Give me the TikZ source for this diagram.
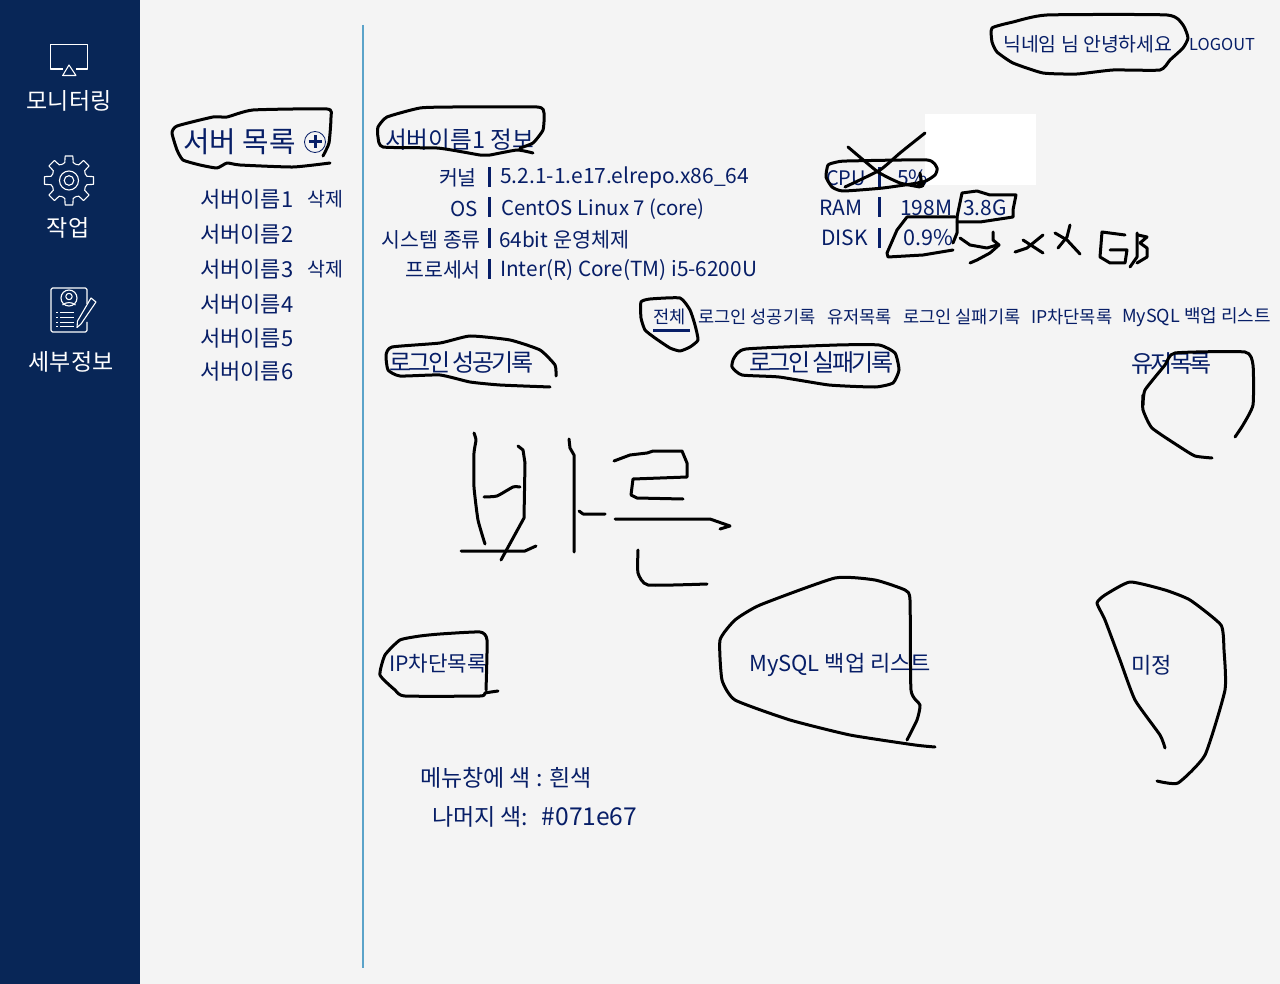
\documentclass[tikz,border=0pt]{standalone}
\usepackage{fontspec}
\setmainfont{Noto Sans CJK KR}
\newfontfamily\tightfont[LetterSpace=-11]{Noto Sans CJK KR}
\definecolor{pagebg}{HTML}{F4F4F4}
\definecolor{sidebar}{HTML}{082657}
\definecolor{navy}{HTML}{071E67}
\definecolor{rulecol}{HTML}{5BA3C9}
\newcommand{\fsz}[1]{\fontsize{#1}{#1}\selectfont}
\begin{document}
\begin{tikzpicture}[x=1pt,y=-1pt,
	label/.style = {anchor=west, inner sep=0pt, yshift=-1pt, text=navy, font=\fsz{21}},
	keyname/.style = {anchor=east, inner sep=0pt, yshift=-1pt, text=navy, font=\fsz{20.5}},
	tabname/.style = {anchor=west, inner sep=0pt, yshift=-1pt, text=navy, font=\fsz{17.6}},
	headname/.style = {anchor=west, inner sep=0pt, yshift=-1pt, text=navy, font=\fsz{24}\tightfont},
	menuname/.style = {anchor=center, inner sep=0pt, yshift=-1pt, text=white, font=\fsz{23}},
	icon/.style = {draw=white, line width=1.1pt, line join=round},
	bar/.style = {draw=navy, line width=3pt},
	scribble/.style = {draw=black, line width=3pt, line cap=round, line join=round}]
	\useasboundingbox (0,0) rectangle (1280,984);
	\fill[pagebg] (0,0) rectangle (1280,984);
	\fill[sidebar] (0,0) rectangle (140,984);
	\fill[white] (925,114) rectangle (1036,185);
	\draw[rulecol, line width=1.5pt] (363,25) -- (363,968);

	% side menu
	\node[menuname] (monitor) at (69,100) {모니터링};
	\node[menuname] (work) at (68,227) {작업};
	\node[menuname] (detail) at (71,361) {세부정보};

	\draw[icon] (62.7,69) -- (50.7,69) -- (50.7,44.5) -- (87.5,44.5) -- (87.5,69) -- (75.5,69);
	\draw[icon] (69,65) -- (62.7,75.5) -- (76,75.5) -- cycle;

	\foreach \a in {0,45,...,315}
		\draw[icon,shift={(69,180.5)}] (\a-22.5:17.5) to[bend left=18] (\a-13:18.5) -- (\a-9:24.8) -- (\a+9:24.8) -- (\a+13:18.5) to[bend left=18] (\a+22.5:17.5);
	\draw[icon] (69,180.5) circle (9.5) (69,180.5) circle (4.8);

	\draw[icon,rounded corners=1.5pt] (87,304) -- (87,288) -- (51,288) -- (51,332) -- (87,332) -- (87,322);
	\draw[icon] (69,298) circle (8) (69,296.5) circle (3.2);
	\draw[icon] (62.5,305) to[bend left=40] (75.5,305);
	\foreach \y in {312,317,322,326} {
		\draw[icon,line width=.8pt] (56,\y) -- (58,\y);
		\draw[icon,line width=.8pt] (60,\y) -- (74,\y);
	}
	\draw[icon] (91,298) -- (96,302) -- (81,324) -- (77,327.5) -- (77.5,321) -- cycle;

	% server list
	\node[label,font=\fsz{28.8}] (listhead) at (183,141) {서버 목록};
	\node[circle, draw=navy, line width=.8pt, minimum size=21pt, inner sep=0pt] (addserver) at (315,142) {};
	\draw[navy, line width=3pt] (308.5,142) -- (321.5,142) (315,135.5) -- (315,148.5);
	\foreach \n/\y in {1/198,2/233,3/268,4/303,5/337,6/370}
		\node[label,font=\fsz{22}] (server\n) at (200,\y) {서버이름\n};
	\node[label,font=\fsz{19.5}] (del1) at (307,198) {삭제};
	\node[label,font=\fsz{19.5}] (del3) at (307,268) {삭제};

	% server info
	\node[label,font=\fsz{23.6}] (infohead) at (385,139) {서버이름1 정보};
	\node[keyname] (kernel) at (477,177) {커널};
	\node[keyname] (os) at (478,208) {OS};
	\node[keyname] (system) at (481,239) {시스템 종류};
	\node[keyname] (cpuname) at (481,269) {프로세서};
	\node[label] (kernelval) at (500,177) {5.2.1-1.e17.elrepo.x86\_64};
	\node[label,font=\fsz{20.4}] (osval) at (501,208) {CentOS Linux 7 (core)};
	\node[label,font=\fsz{20.7}] (systemval) at (499,239) {64bit 운영체제};
	\node[label,font=\fsz{20.8}] (cpunameval) at (500,269) {Inter(R) Core(TM) i5-6200U};
	\foreach \y in {177,207,238,269}
		\draw[bar] (489,\y-10) -- (489,\y+10);

	% usage
	\node[label,font=\fsz{20}] (cpu) at (826,177) {CPU};
	\node[label] (cpuval) at (897,177) {5\%};
	\node[label] (ram) at (819,207) {RAM};
	\node[label] (ramval) at (900,207) {198M};
	\node[label] (ramall) at (963,207) {3.8G};
	\node[label] (disk) at (821,237) {DISK};
	\node[label,font=\fsz{21.6}] (diskval) at (903,237) {0.9\%};
	\foreach \y in {177,207,238}
		\draw[bar] (879.5,\y-10) -- (879.5,\y+10);

	% top right
	\node[label,font=\fsz{19.4}] (hello) at (1003,43) {닉네임 님 안녕하세요};
	\node[tabname,font=\fsz{16.4}] (logout) at (1189,43) {LOGOUT};

	% tabs
	\node[tabname] (taball) at (653,316) {전체};
	\draw[navy, line width=3pt] (653,331) -- (690,331);
	\node[tabname] (tabok) at (698,316) {로그인 성공기록};
	\node[tabname] (tabuser) at (827,316) {유저목록};
	\node[tabname] (tabfail) at (903,316) {로그인 실패기록};
	\node[tabname] (tabip) at (1031,316) {IP차단목록};
	\node[tabname,font=\fsz{18}] (tabsql) at (1122,316) {MySQL 백업 리스트};

	% panels
	\node[headname] (okhead) at (389,362) {로그인 성공기록};
	\node[headname] (failhead) at (749,362) {로그인 실패기록};
	\node[headname] (userhead) at (1131,363) {유저목록};
	\node[label,font=\fsz{21.2}] (iphead) at (389,663) {IP차단목록};
	\node[label,font=\fsz{22}] (sqlhead) at (749,664) {MySQL 백업 리스트};
	\node[label,font=\fsz{22}] (undecided) at (1131,664) {미정};
	\node[label,font=\fsz{23}] (note1) at (420,777) {메뉴창에 색 : 흰색};
	\node[label,font=\fsz{23}] (note2) at (432,816) {나머지 색:~~\hspace{3pt}{\fsz{24.6}\#071e67}};

	% pen marks over the page
	\draw[scribble] plot[smooth,tension=.3] coordinates {(330,163) (293,167) (240,165) (227,163) (217,168) (200,165) (183,160) (177,150) (172,133) (177,126) (213,117) (227,117) (253,110) (327,109) (331,117) (329,143) (323,156)};
	\draw[scribble] plot[smooth,tension=.3] coordinates {(533,153) (517,150) (490,155) (480,155) (463,152) (437,148) (383,147) (378,137) (378,127) (387,117) (420,108) (453,107) (537,107) (544,113) (543,130) (533,143) (520,148)};
	\draw[scribble] plot[smooth cycle,tension=.3] coordinates {(992,28) (1013,22) (1047,15) (1167,15) (1183,25) (1188,38) (1183,48) (1170,60) (1160,70) (1113,70) (1077,74) (1043,73) (1013,63) (997,52) (992,42)};
	\draw[scribble] plot[smooth cycle,tension=.3] coordinates {(837,162) (847,161) (927,160) (937,168) (935,175) (923,182) (883,188) (843,191) (832,187) (826,177) (828,165)};
	\draw[scribble] plot[smooth,tension=.3] coordinates {(848,147) (878,172) (900,183) (920,187)};
	\draw[scribble] plot[smooth,tension=.3] coordinates {(845,187) (880,170) (900,153) (925,133)};
	\draw[scribble] (920,173) -- (922,186);
	\fill (921,184) circle (4);
	\draw[scribble] plot coordinates {(957,217) (962,193) (977,191) (990,195) (1016,195) (1013,210) (1013,217) (980,222) (957,222)};
	\draw[scribble] plot coordinates {(955,217) (907,217) (897,230) (887,253) (888,257) (923,255) (953,250)};
	\draw[scribble] plot coordinates {(957,217) (957,233) (953,243)};
	\draw[scribble] plot coordinates {(960,238) (970,245) (987,248) (997,245)};
	\draw[scribble] plot coordinates {(993,232) (993,240) (999,245) (990,253) (977,260) (970,263)};
	\draw[scribble] plot coordinates {(1015,252) (1027,248) (1043,235)};
	\draw[scribble] plot coordinates {(1023,240) (1043,253)};
	\draw[scribble] plot coordinates {(1070,225) (1067,237) (1058,248)};
	\draw[scribble] plot coordinates {(1055,233) (1067,240) (1080,254)};
	\draw[scribble] plot coordinates {(1125,235) (1102,232) (1100,257) (1110,263) (1125,263) (1127,250) (1110,250)};
	\draw[scribble] plot coordinates {(1137,233) (1137,257) (1130,267)};
	\draw[scribble] plot coordinates {(1138,235) (1147,237) (1140,243) (1147,248) (1147,257) (1137,263)};
	\draw[scribble] plot[smooth cycle,tension=.3] coordinates {(641,302) (650,299) (680,298) (690,310) (695,325) (698,340) (690,347) (680,351) (670,348) (655,338) (645,330) (641,318)};
	\draw[scribble] plot[smooth,tension=.3] coordinates {(550,387) (500,385) (470,382) (440,375) (400,376) (388,370) (386,355) (392,347) (440,343) (470,336) (510,340) (540,350) (555,365) (556,376)};
	\draw[scribble] plot[smooth cycle,tension=.3] coordinates {(732,367) (734,358) (746,349) (837,345) (879,345) (895,353) (899,370) (893,383) (875,387) (829,385) (779,377) (742,375)};
	\draw[scribble] plot[smooth,tension=.3] coordinates {(1143,405) (1145,390) (1165,365) (1175,353) (1245,352) (1253,365) (1253,405) (1243,425) (1235,437)};
	\draw[scribble] plot[smooth,tension=.3] coordinates {(1143,395) (1143,410) (1152,428) (1180,447) (1195,456) (1212,458)};
	% 바른
	\draw[scribble] plot[smooth,tension=.3] coordinates {(474,433) (476,440) (474,453) (474,487) (478,520) (485,544)};
	\draw[scribble] plot coordinates {(518,446) (523,450) (525,463) (524,518) (501,560)};
	\draw[scribble] plot[smooth,tension=.3] coordinates {(484,497) (497,496) (513,487) (520,487)};
	\draw[scribble] plot coordinates {(461,551) (525,551) (536,546)};
	\draw[scribble] plot coordinates {(569,439) (570,448) (574,455) (574,552)};
	\draw[scribble] plot coordinates {(579,511) (583,514) (605,514)};
	\draw[scribble] plot coordinates {(614,461) (630,455) (647,453) (653,451) (682,451) (687,463) (687,477) (633,479) (631,495) (637,498) (683,499)};
	\draw[scribble] plot coordinates {(615,519) (710,519) (730,526) (720,529)};
	\draw[scribble] plot[smooth,tension=.3] coordinates {(638,550) (638,573) (648,585) (707,584)};
	\draw[scribble] plot[smooth,tension=.3] coordinates {(498,691) (485,693) (480,696) (405,696) (395,690) (380,675) (385,655) (400,640) (420,636) (440,634) (480,632) (487,640) (486,690)};
	\draw[scribble] plot[smooth,tension=.3] coordinates {(935,747) (915,745) (850,735) (790,720) (735,700) (722,680) (720,640) (735,620) (760,605) (835,578) (875,580) (905,590) (910,600) (911,690) (920,705) (917,720) (907,740)};
	\draw[scribble] plot[smooth,tension=.3] coordinates {(1157,781) (1178,783) (1205,755) (1225,690) (1224,650) (1221,625) (1190,600) (1165,590) (1130,582) (1105,595) (1097,603) (1105,620) (1120,660) (1135,700) (1160,735) (1165,748)};
\end{tikzpicture}
\end{document}
